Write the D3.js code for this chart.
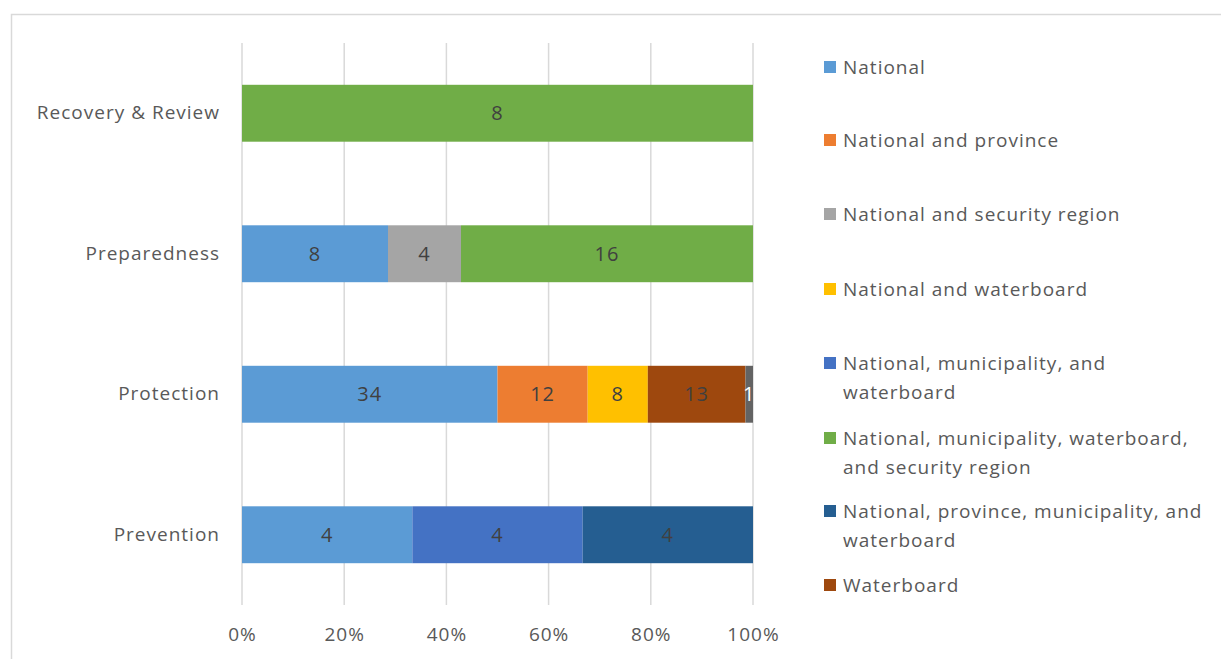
<!DOCTYPE html>
<html>
<head>
<meta charset="utf-8">
<script src="https://cdn.jsdelivr.net/npm/d3@7"></script>
<style>
  body { margin: 0; background: #fff; }
  svg { font-family: "Open Sans", Lato, sans-serif; }
  svg text { letter-spacing: 1px; }
</style>
</head>
<body>
<svg id="chart" width="1221" height="659"></svg>
<script>
// categories, bottom to top as drawn by Excel
const phases = ['Prevention', 'Protection', 'Preparedness', 'Recovery & Review']

const seriesNames = [
  'National',
  'National and province',
  'National and security region',
  'National and waterboard',
  'National, municipality, and waterboard',
  'National, municipality, waterboard, and security region',
  'National, province, municipality, and waterboard',
  'Waterboard',
  'Other'  // legend entry is cut off in the picture
]

// counts per phase, one array per series (same order as phases)
const national        = [4, 34, 8, 0]
const natProvince     = [0, 12, 0, 0]
const natSecurity     = [0, 0, 4, 0]
const natWaterboard   = [0, 8, 0, 0]
const natMunWater     = [4, 0, 0, 0]
const natMunWaterSec  = [0, 0, 16, 8]
const natProvMunWater = [4, 0, 0, 0]
const waterboard      = [0, 13, 0, 0]
const other           = [0, 1, 0, 0]

const seriesValues = [national, natProvince, natSecurity, natWaterboard,
  natMunWater, natMunWaterSec, natProvMunWater, waterboard, other]

const colors = ['#5B9BD5', '#ED7D31', '#A5A5A5', '#FFC000', '#4472C4',
  '#70AD47', '#255E91', '#9E480E', '#636363']

const xTicks = [0, 0.2, 0.4, 0.6, 0.8, 1]

const fontSize = '19px'

// build rows for d3.stack, normalized to 100%
let rows = phases.map((p, i) => {
  let row = {phase: p}
  let total = d3.sum(seriesValues, (s) => s[i])
  seriesNames.forEach((n, j) => { row[n] = seriesValues[j][i] / total })
  row.raw = seriesValues.map((s) => s[i])
  return row
})

let svg = d3.select('#chart')

// chart frame
svg.append('rect')
  .attr('x', 11.5).attr('y', 14.5)
  .attr('width', 1240).attr('height', 700)
  .attr('fill', 'none')
  .attr('stroke', '#d9d9d9')
  .attr('stroke-width', 1.5)

let x = d3.scaleLinear().domain([0, 1]).range([242, 753])
let y = d3.scaleBand().domain(phases.slice().reverse()).range([43, 605]).paddingInner(0.595).paddingOuter(0.2975)

// gridlines
svg.append('g')
  .selectAll('line')
  .data(xTicks)
  .enter()
  .append('line')
  .attr('x1', (d) => x(d)).attr('x2', (d) => x(d))
  .attr('y1', 43).attr('y2', 605)
  .attr('stroke', '#d9d9d9')
  .attr('stroke-width', 1.5)

// x axis labels
let xAxis = d3.axisBottom(x).tickValues(xTicks).tickFormat(d3.format('.0%')).tickSize(0).tickPadding(23)
let gx = svg.append('g').attr('transform', 'translate(0,605)').call(xAxis)
gx.select('.domain').remove()
gx.selectAll('text').attr('fill', '#595959').style('font-size', fontSize).style('font-family', '"Open Sans", sans-serif')

// y axis labels
let yAxis = d3.axisLeft(y).tickSize(0).tickPadding(22)
let gy = svg.append('g').attr('transform', 'translate(242,0)').call(yAxis)
gy.select('.domain').remove()
gy.selectAll('text').attr('fill', '#595959').style('font-size', fontSize).style('font-family', '"Open Sans", sans-serif')

// stacked bars
let stacked = d3.stack().keys(seriesNames)(rows)

let layers = svg.append('g')
  .selectAll('g')
  .data(stacked)
  .enter()
  .append('g')
  .attr('fill', (d, i) => colors[i])

layers.selectAll('rect')
  .data((d) => d.map((v) => ({v: v, key: d.key, idx: d.index})))
  .enter()
  .filter((d) => d.v[1] - d.v[0] > 0)
  .append('rect')
  .attr('x', (d) => x(d.v[0]))
  .attr('y', (d) => y(d.v.data.phase))
  .attr('width', (d) => x(d.v[1]) - x(d.v[0]))
  .attr('height', y.bandwidth())

// value labels
layers.selectAll('text')
  .data((d) => d.map((v) => ({v: v, key: d.key, idx: d.index})))
  .enter()
  .filter((d) => d.v[1] - d.v[0] > 0)
  .append('text')
  .attr('x', (d) => (x(d.v[0]) + x(d.v[1])) / 2)
  .attr('y', (d) => y(d.v.data.phase) + y.bandwidth() / 2)
  .attr('dy', '0.35em')
  .attr('text-anchor', 'middle')
  .attr('fill', (d) => d.idx === 8 ? '#ffffff' : '#404040')
  .style('font-size', '20px')
  .text((d) => d.v.data.raw[d.idx])

// legend, wrapped lines as in the original
const legendLines = [
  ['National'],
  ['National and province'],
  ['National and security region'],
  ['National and waterboard'],
  ['National, municipality, and', 'waterboard'],
  ['National, municipality, waterboard,', 'and security region'],
  ['National, province, municipality, and', 'waterboard'],
  ['Waterboard']
]
const legendY = [67, 140, 214, 289, 363, 438, 511, 585]

let legend = svg.append('g')
  .selectAll('g')
  .data(legendLines)
  .enter()
  .append('g')
  .attr('transform', (d, i) => `translate(824,${legendY[i]})`)

legend.append('rect')
  .attr('x', 0).attr('y', -6)
  .attr('width', 12).attr('height', 12)
  .attr('fill', (d, i) => colors[i])

legend.append('text')
  .attr('x', 19)
  .attr('fill', '#595959')
  .style('font-size', fontSize)
  .selectAll('tspan')
  .data((d) => d)
  .enter()
  .append('tspan')
  .attr('x', 19)
  .attr('y', (d, i) => i * 29)
  .attr('dy', '0.35em')
  .text((d) => d)
</script>
</body>
</html>
